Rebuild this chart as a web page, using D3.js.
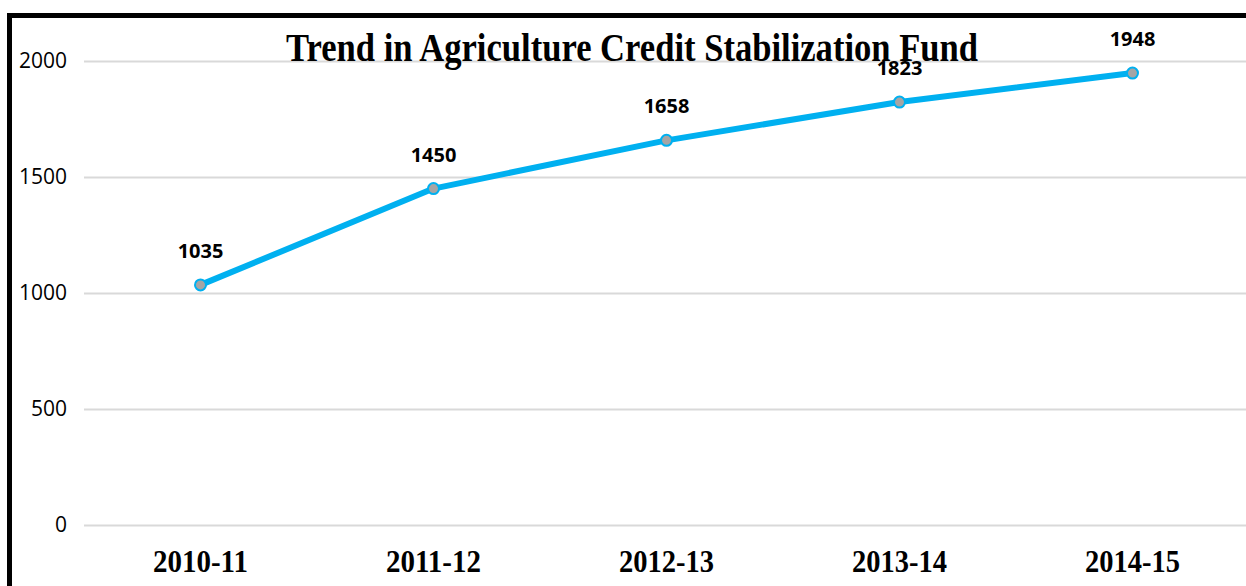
<!DOCTYPE html>
<html>
<head>
<meta charset="utf-8">
<script src="https://cdn.jsdelivr.net/npm/d3@7"></script>
<style>
  html, body { margin: 0; padding: 0; background: #fff; }
  svg { display: block; }
</style>
</head>
<body>
<svg id="chart" width="1246" height="586"></svg>
<script>
// Agriculture Credit Stabilization Fund, by year
const years = ["2010-11", "2011-12", "2012-13", "2013-14", "2014-15"];
const fund = [1035, 1450, 1658, 1823, 1948];
const yTicks = [0, 500, 1000, 1500, 2000];
const title = "Trend in Agriculture Credit Stabilization Fund";

const W = 1246, H = 586;
const plot = { left: 84, right: 1249, top: 61, bottom: 525 };

const svg = d3.select("#chart");

// frame around the chart (left and top edges visible)
svg.append("rect")
  .attr("x", 9.5).attr("y", 15.5)
  .attr("width", W + 20).attr("height", H + 20)
  .attr("fill", "none").attr("stroke", "#000").attr("stroke-width", 5);

const x = d3.scaleBand().domain(years).range([plot.left, plot.right]).padding(0);
const y = d3.scaleLinear().domain([0, 2000]).range([plot.bottom, plot.top]);

// horizontal gridlines + value axis labels
const yAxis = d3.axisLeft(y).tickValues(yTicks).tickFormat(d3.format("d"))
  .tickSize(-(W - plot.left)).tickPadding(17);
const gy = svg.append("g").attr("transform", `translate(${plot.left},0)`).call(yAxis);
gy.select(".domain").remove();
gy.selectAll(".tick line").attr("stroke", "#d9d9d9").attr("stroke-width", 2);
gy.selectAll(".tick text")
  .attr("fill", "#000")
  .style("font-family", "'Open Sans', sans-serif")
  .style("font-size", "21px");

// category axis labels
const xAxis = d3.axisBottom(x).tickSize(0).tickPadding(0);
const gx = svg.append("g").attr("transform", `translate(0,${plot.bottom})`).call(xAxis);
gx.select(".domain").remove();
gx.selectAll(".tick text")
  .attr("dy", 0).attr("y", 47)
  .attr("fill", "#000")
  .attr("textLength", 95).attr("lengthAdjust", "spacingAndGlyphs")
  .style("font-family", "'Liberation Serif', 'Times New Roman', serif")
  .style("font-weight", "bold")
  .style("font-size", "32px");

const cx = d => x(d) + x.bandwidth() / 2;

// trend line
const line = d3.line().x((d, i) => cx(years[i])).y(d => y(d));
svg.append("path")
  .datum(fund)
  .attr("d", line)
  .attr("fill", "none")
  .attr("stroke", "#00b0f0")
  .attr("stroke-width", 6)
  .attr("stroke-linejoin", "round")
  .attr("stroke-linecap", "round");

// title, laid over the top of the plot area
svg.append("text")
  .attr("x", 632).attr("y", 61)
  .attr("text-anchor", "middle")
  .attr("textLength", 692).attr("lengthAdjust", "spacingAndGlyphs")
  .style("font-family", "'Liberation Serif', 'Times New Roman', serif")
  .style("font-weight", "bold")
  .style("font-size", "40px")
  .text(title);

// markers
svg.append("g").selectAll("circle")
  .data(fund)
  .join("circle")
  .attr("cx", (d, i) => cx(years[i]))
  .attr("cy", d => y(d))
  .attr("r", 5.5)
  .attr("fill", "#a5a5a5")
  .attr("stroke", "#00b0f0")
  .attr("stroke-width", 2);

// data labels
svg.append("g").selectAll("text")
  .data(fund)
  .join("text")
  .attr("x", (d, i) => cx(years[i]))
  .attr("y", d => y(d) - 27)
  .attr("text-anchor", "middle")
  .attr("fill", "#000")
  .style("font-family", "'Open Sans', sans-serif")
  .style("font-weight", "bold")
  .style("font-size", "20px")
  .text(d => d);
</script>
</body>
</html>
